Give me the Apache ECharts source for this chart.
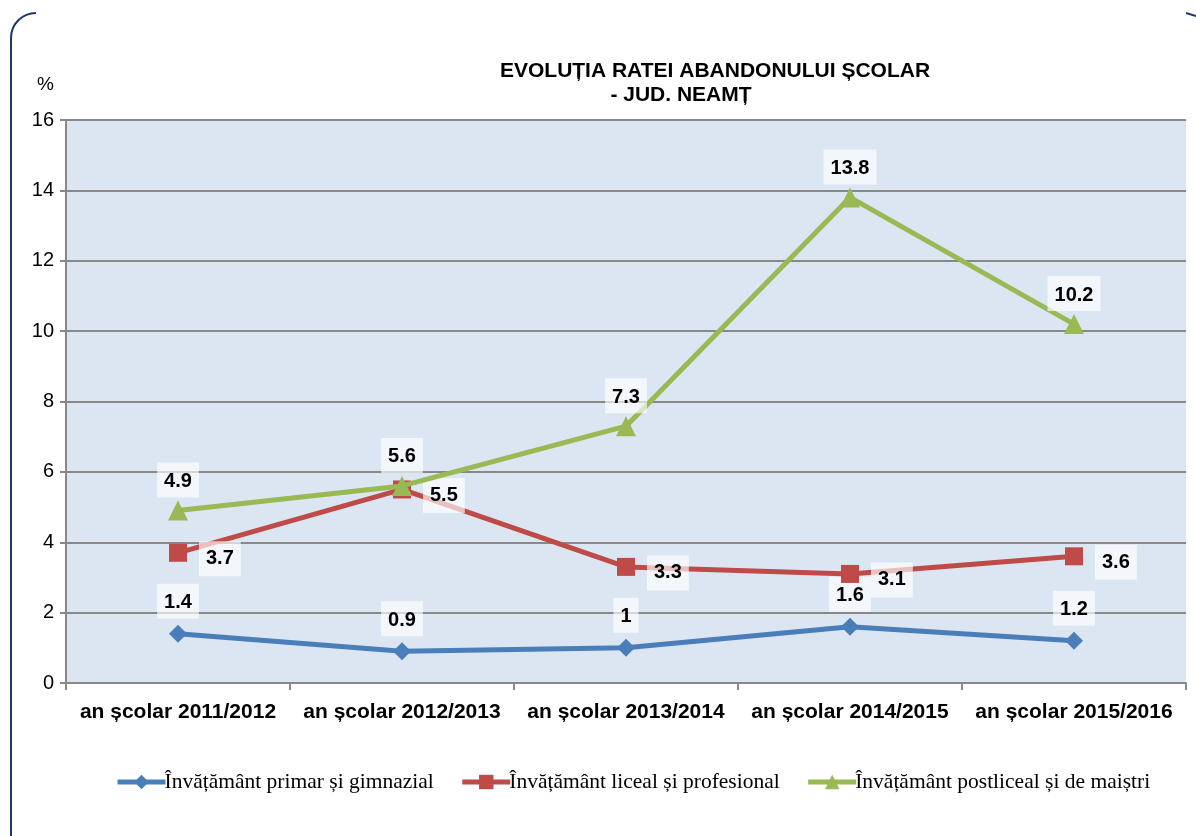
<!DOCTYPE html>
<html>
<head>
<meta charset="utf-8">
<script src="https://cdn.jsdelivr.net/npm/echarts@6/dist/echarts.min.js"></script>
<style>
html, body { margin: 0; padding: 0; background: #fff; }
#chart { width: 1196px; height: 836px; }
</style>
</head>
<body>
<div id="chart"></div>
<script>
// date
var categories = ['an școlar 2011/2012', 'an școlar 2012/2013', 'an școlar 2013/2014', 'an școlar 2014/2015', 'an școlar 2015/2016'];
var seriesNames = ['Învățământ primar și gimnazial', 'Învățământ liceal și profesional', 'Învățământ postliceal și de maiștri'];
var primar = [1.4, 0.9, 1, 1.6, 1.2];
var liceal = [3.7, 5.5, 3.3, 3.1, 3.6];
var postliceal = [4.9, 5.6, 7.3, 13.8, 10.2];

var chart = echarts.init(document.getElementById('chart'));

var sans = 'Arial, "Liberation Sans", sans-serif';

var labelBox = {
    show: true,
    color: '#000',
    fontFamily: sans,
    fontSize: 20,
    fontWeight: 'bold',
    backgroundColor: 'rgba(255,255,255,0.65)',
    padding: [9, 7, 6, 7]
};

var option = {
    backgroundColor: '#fff',
    animation: false,
    title: [{
        text: 'EVOLUȚIA RATEI ABANDONULUI ȘCOLAR',
        left: 710, top: 56, textAlign: 'center',
        textStyle: {fontFamily: sans, fontSize: 21, fontWeight: 'bold', color: '#000'}
    }, {
        text: '- JUD. NEAMȚ',
        left: 676, top: 80, textAlign: 'center',
        textStyle: {fontFamily: sans, fontSize: 21, fontWeight: 'bold', color: '#000'}
    }],
    legend: {
        bottom: 38,
        left: 110,
        itemWidth: 48,
        itemHeight: 18,
        itemGap: 26,
        lineStyle: {width: 5},
        textStyle: {fontFamily: '"Liberation Serif", "Times New Roman", serif', fontSize: 21.5, color: '#000', padding: [0, 0, 0, -6]},
        data: seriesNames
    },
    grid: {
        left: 66, right: 10, top: 120, bottom: 153,
        show: true, backgroundColor: '#dce6f2', borderWidth: 0
    },
    graphic: [
        {type: 'arc', shape: {cx: 36, cy: 38, r: 25, startAngle: Math.PI, endAngle: Math.PI * 1.5},
         style: {stroke: '#1f3864', lineWidth: 2, fill: null}},
        {type: 'line', shape: {x1: 11, y1: 38, x2: 11, y2: 836}, style: {stroke: '#1f3864', lineWidth: 2}},
        {type: 'line', shape: {x1: 1186, y1: 13, x2: 1196, y2: 16}, style: {stroke: '#1f3864', lineWidth: 2}}
    ],
    xAxis: {
        type: 'category',
        data: categories,
        boundaryGap: true,
        axisLine: {lineStyle: {color: '#888', width: 2}},
        axisTick: {show: true, length: 7, lineStyle: {color: '#888', width: 2}},
        axisLabel: {
            interval: 0, margin: 19,
            fontFamily: sans,
            fontSize: 21, fontWeight: 'bold', color: '#000'
        }
    },
    yAxis: {
        type: 'value',
        min: 0, max: 16, interval: 2,
        name: '%',
        nameLocation: 'end',
        nameGap: 26,
        nameTextStyle: {fontFamily: sans, fontSize: 19, color: '#000', align: 'right', padding: [0, 12, 0, 0]},
        axisLine: {show: true, lineStyle: {color: '#888', width: 2}},
        axisTick: {show: true, length: 6, lineStyle: {color: '#888', width: 2}},
        splitLine: {show: true, lineStyle: {color: '#888', width: 2}},
        axisLabel: {
            margin: 12,
            fontFamily: sans,
            fontSize: 20, color: '#000'
        }
    },
    series: [{
        name: seriesNames[0],
        type: 'line',
        data: primar,
        symbol: 'diamond',
        symbolSize: 18,
        lineStyle: {width: 5, color: '#4a7ebb'},
        itemStyle: {color: '#4a7ebb'},
        label: Object.assign({}, labelBox, {position: 'top', distance: 6}),
        z: 2
    }, {
        name: seriesNames[1],
        type: 'line',
        data: liceal,
        symbol: 'rect',
        symbolSize: 18,
        lineStyle: {width: 5, color: '#be4b48'},
        itemStyle: {color: '#be4b48'},
        label: Object.assign({}, labelBox, {position: 'right', distance: 12, offset: [0, 6]}),
        z: 3
    }, {
        name: seriesNames[2],
        type: 'line',
        data: postliceal,
        symbol: 'triangle',
        symbolSize: 20,
        lineStyle: {width: 5, color: '#98b954'},
        itemStyle: {color: '#98b954'},
        label: Object.assign({}, labelBox, {position: 'top', distance: 3}),
        z: 4
    }]
};

chart.setOption(option);
</script>
</body>
</html>
